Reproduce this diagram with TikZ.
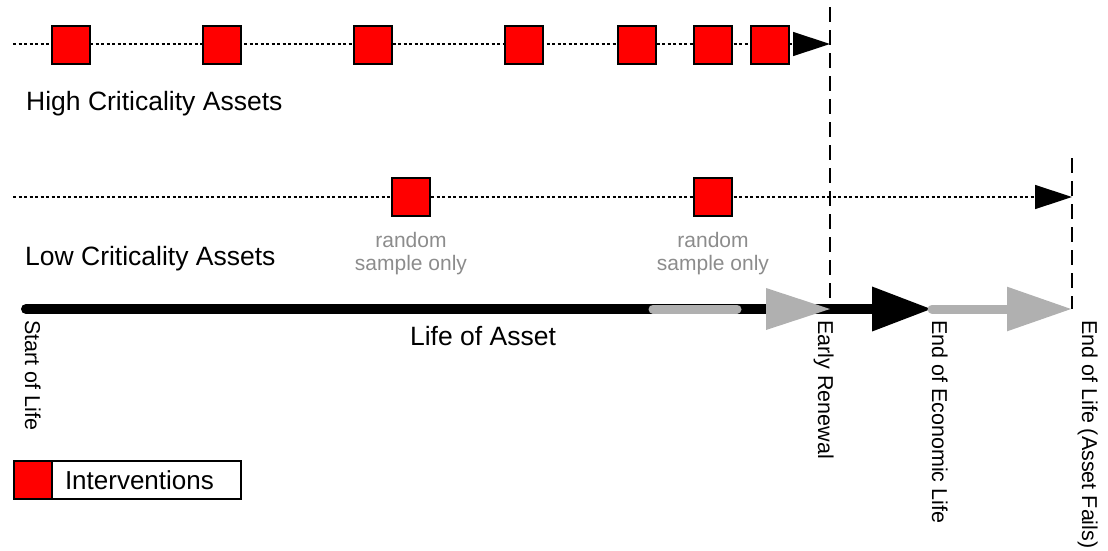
\documentclass[tikz,border=0pt]{standalone}
\usepackage{fontspec}
\setmainfont{Liberation Sans}
\usetikzlibrary{arrows.meta,positioning}
\definecolor{sampleGray}{RGB}{140,140,140}
\definecolor{axisGray}{RGB}{176,176,176}

\begin{document}
\begin{tikzpicture}[
  x=1pt, y=-1pt,
  box/.style={rectangle, draw, fill=red, line width=1.2pt, minimum size=38pt, inner sep=0pt},
  track/.style={line width=1.4pt, dash pattern=on 3pt off 2.5pt, -{Triangle[length=37pt,width=24pt]}},
  limit/.style={line width=1.4pt, dash pattern=on 15pt off 8pt},
  axis/.style={line width=10pt, line cap=round},
  grayaxis/.style={line width=9pt, draw=axisGray, line cap=round},
  caption/.style={font=\fontsize{26.5}{30}\selectfont, inner sep=0pt},
  sample/.style={font=\fontsize{21}{23}\selectfont, text=sampleGray, align=center, inner sep=0pt},
  milestone/.style={rotate=-90, anchor=base west, font=\fontsize{21.5}{24}\selectfont, inner sep=0pt}
]
\useasboundingbox (0,0) rectangle (1108,550);

\coordinate (hstart) at (13,44);
\coordinate (hend) at (830,44);
\coordinate (lstart) at (13,197);
\coordinate (lend) at (1072,197);
\coordinate (start) at (26,309);
\coordinate (grayA) at (653,309);
\coordinate (grayB) at (737,309);
\coordinate (renew) at (830,309);
\coordinate (econ) at (932,309);
\coordinate (fail) at (1072,309);
\coordinate (renewtop) at (830,7);
\coordinate (failtop) at (1072,158);

\draw[track] (hstart) -- (hend);
\draw[track] (lstart) -- (lend);
\draw[limit] (renewtop) -- (renew);
\draw[limit] (failtop) -- (fail);

\draw[axis, -{Triangle[length=60pt,width=42pt]}] (start) -- (econ);
\draw[grayaxis] (grayA) -- (grayB);
\fill[axisGray] (renew) -- ++(-64,-21) -- ++(0,42) -- cycle;
\draw[grayaxis, -{Triangle[length=65pt,width=42pt]}] (econ) -- (fail);

\node[box] (h1) at (71,45) {};
\node[box] (h2) at (222,45) {};
\node[box] (h3) at (373,45) {};
\node[box] (h4) at (524,45) {};
\node[box] (h5) at (637,45) {};
\node[box] (h6) at (713,45) {};
\node[box] (h7) at (770,45) {};
\node[box] (l1) at (411,197) {};
\node[box] (l2) at (713,197) {};

\node[sample] (s1) at (411,254) {random\\sample only};
\node[sample] (s2) at (713,254) {random\\sample only};

\node[caption, anchor=base west] (high) at (26,110) {High Criticality Assets};
\node[caption, anchor=base west] (low) at (25,265) {Low Criticality Assets};
\node[caption, anchor=base] (life) at (483,345) {Life of Asset};

\node[milestone] (m0) at (25,320) {Start of Life};
\node[milestone] (m1) at (818,320) {Early Renewal};
\node[milestone] (m2) at (932,320) {End of Economic Life};
\node[milestone] (m3) at (1082,320) {End of Life (Asset Fails)};

\node[box] (key) at (33,480) {};
\node[draw, line width=1.2pt, minimum height=38pt, text width=163pt, inner xsep=13pt, inner ysep=0pt,
  outer sep=0pt, font=\fontsize{26}{30}\selectfont, right=-0.6pt of key] (legend) {Interventions};
\end{tikzpicture}
\end{document}
